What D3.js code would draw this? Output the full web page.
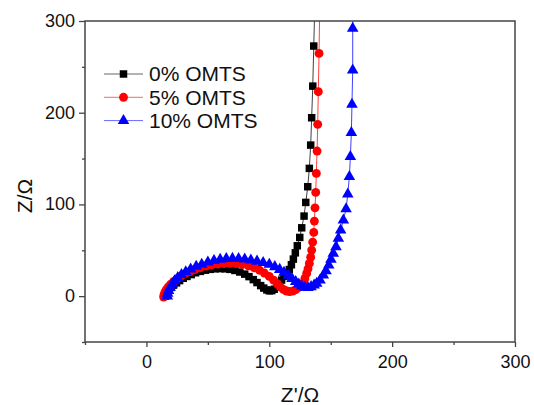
<!DOCTYPE html>
<meta charset="utf-8">
<style>

body {
  margin: 0;
  background: #fff;
}

svg {
  font-family: "Liberation Sans", Arial, sans-serif;
}

.frame {
  fill: none;
  stroke: #444;
  stroke-width: 1.5px;
}

.axis path {
  display: none;
}

.axis line {
  stroke: #444;
  stroke-width: 1.3px;
}

.axis text {
  fill: #111;
  font-size: 18px;
}

.series .line {
  fill: none;
  stroke-width: 1px;
  stroke-opacity: 0.75;
}

</style>
<svg width="534" height="405"></svg>

<script src="https://cdn.jsdelivr.net/npm/d3@7"></script>
<script>

// Z' (x) and -Z'' (y), one pair per marker
var omts0 = [
  [15.5, 0], [16, 2], [17, 4.5], [18.5, 7], [20, 9.5], [22, 12], [24.5, 14.5], [27, 17],
  [30, 19.5], [33, 21.5], [36.5, 23.5], [40, 25.5], [44, 27], [48, 28.3], [52, 29.2],
  [56, 29.8], [60, 30], [64, 29.8], [68, 29.2], [72, 28], [76, 26.3], [80, 24],
  [83.5, 21.3], [87, 18], [90, 14.8], [93, 11.5], [95.5, 8.8], [98, 6.8], [100, 5.8],
  [102, 6], [104, 7.5], [106, 10], [108, 13.5], [110, 17.5], [112, 21.5], [114, 25.5],
  [116.3, 29], [118, 34.2], [119.6, 40.4], [121.2, 47.2], [122.8, 54.9], [124.8, 64],
  [126.4, 74.5], [128.3, 87.3], [129.7, 102.2], [131.3, 119.3], [132.6, 139.3],
  [133.7, 164.7], [134.5, 194.5], [135.4, 229], [136.2, 272.7], [137.3, 330]
];

var omts5 = [
  [14, -1], [14.3, 1.5], [15, 4], [16.2, 7], [17.8, 10], [19.8, 13], [22.2, 16], [25, 19],
  [28, 21.8], [31.5, 24.3], [35.5, 26.8], [39.5, 29], [44, 31], [48.5, 32.8], [53, 34],
  [58, 35], [63, 35.6], [68, 35.8], [73, 35.5], [78, 34.6], [83, 33], [87.5, 31],
  [92, 28.3], [96, 25.2], [100, 21.5], [103.5, 17.5], [106.5, 13.5], [109, 10],
  [111.5, 7.3], [114, 5.6], [116.5, 5], [119, 5.5], [121.5, 7], [124, 9.5], [126, 12],
  [127.7, 14.5], [129, 19.3], [130.4, 24.8], [131.5, 29.8], [132.6, 35.7], [133.7, 42.5],
  [134.5, 50.2], [135.3, 58.9], [136.2, 69.5], [136.7, 81.8], [137.2, 96.3],
  [137.8, 113.1], [138.3, 133.8], [138.9, 158.2], [139.4, 187.3], [139.9, 222.9],
  [140.5, 264.7], [141.2, 330]
];

var omts10 = [
  [17, 0], [17.3, 3], [18, 6], [19.3, 9.5], [21, 13], [23, 16.5], [25.5, 20], [28.5, 23.5],
  [32, 26.5], [36, 29.5], [40.5, 32.3], [45, 34.7], [50, 37], [55, 38.8], [60, 40],
  [65, 40.8], [70, 41], [75, 40.8], [80, 40.2], [85, 39.2], [90, 38], [95, 36.5],
  [100, 34.5], [104.5, 32], [108.5, 29], [112, 25.8], [115.5, 22.5], [118.5, 19],
  [121.5, 15.8], [124, 13], [126.5, 10.8], [129, 9.5], [131.5, 9.3], [134, 10.2],
  [136.5, 12], [138.6, 13.8], [141.3, 17.5], [144, 22.9], [146.2, 27.6], [148.4, 33.8],
  [150.2, 40], [152.1, 46.6], [154.3, 53.8], [156.2, 62.9], [158.1, 72], [160.3, 82.9],
  [162.5, 95], [163.9, 111.3], [165.2, 130.2], [166, 152], [166.8, 178.2], [167.3, 209],
  [167.9, 246.5], [167.9, 292], [168, 330]
];

var seriesNames = ["0% OMTS", "5% OMTS", "10% OMTS"];
var xTicks = [0, 100, 200, 300],
    xMinor = [-50, 50, 150, 250],
    yTicks = [0, 100, 200, 300],
    yMinor = [-50, 50, 150, 250];

var series = [
  {name: seriesNames[0], values: omts0, color: "#000", symbol: d3.symbolSquare, size: 56},
  {name: seriesNames[1], values: omts5, color: "#f00", symbol: d3.symbolCircle, size: 62},
  {name: seriesNames[2], values: omts10, color: "#00f", symbol: d3.symbolTriangle, size: 58}
];

var svg = d3.select("svg"),
    margin = {top: 21, right: 19, bottom: 63, left: 85},
    width = svg.attr("width") - margin.left - margin.right,
    height = svg.attr("height") - margin.top - margin.bottom,
    g = svg.append("g").attr("transform", "translate(" + margin.left + "," + margin.top + ")");

var x = d3.scaleLinear()
    .domain([-50, 300])
    .range([0, width]);

var y = d3.scaleLinear()
    .domain([-50, 300])
    .range([height, 0]);

var line = d3.line()
    .x(function(d) { return x(d[0]); })
    .y(function(d) { return y(d[1]); });

g.append("clipPath")
    .attr("id", "clip")
  .append("rect")
    .attr("width", width)
    .attr("height", height);

// minor ticks first, then the labelled ones
g.append("g")
    .attr("class", "axis axis--x")
    .attr("transform", "translate(0," + height + ")")
    .call(d3.axisBottom(x).tickValues(xMinor).tickSize(3).tickFormat(""));

g.append("g")
    .attr("class", "axis axis--x")
    .attr("transform", "translate(0," + height + ")")
    .call(d3.axisBottom(x).tickValues(xTicks).tickSize(5).tickPadding(6))
  .selectAll("text")
    .attr("dy", "0.85em");

g.append("g")
    .attr("class", "axis axis--y")
    .call(d3.axisLeft(y).tickValues(yMinor).tickSize(3).tickFormat(""));

g.append("g")
    .attr("class", "axis axis--y")
    .call(d3.axisLeft(y).tickValues(yTicks).tickSize(6).tickPadding(4))
  .selectAll("text")
    .attr("dy", "0.3em");

var plot = g.append("g")
    .attr("clip-path", "url(#clip)");

var s = plot.selectAll(".series")
  .data(series)
  .enter().append("g")
    .attr("class", "series");

s.append("path")
    .attr("class", "line")
    .attr("d", function(d) { return line(d.values); })
    .attr("stroke", function(d) { return d.color; });

s.selectAll(".dot")
  .data(function(d) { return d.values.map(function(v) { return {v: v, s: d}; }); })
  .enter().append("path")
    .attr("class", "dot")
    .attr("transform", function(d) { return "translate(" + x(d.v[0]) + "," + y(d.v[1]) + ")"; })
    .attr("d", function(d) { return d3.symbol().type(d.s.symbol).size(d.s.size)(); })
    .attr("fill", function(d) { return d.s.color; });

g.append("rect")
    .attr("class", "frame")
    .attr("width", width)
    .attr("height", height);

// legend
var legend = g.append("g")
    .attr("transform", "translate(19,53)");

var item = legend.selectAll("g")
  .data(series)
  .enter().append("g")
    .attr("transform", function(d, i) { return "translate(0," + (i * 23.3) + ")"; });

item.append("line")
    .attr("x1", 0)
    .attr("x2", 39)
    .attr("stroke", function(d) { return d.color; })
    .attr("stroke-opacity", 0.6)
    .attr("stroke-width", 1);

item.append("path")
    .attr("transform", "translate(19.5,0)")
    .attr("d", function(d) { return d3.symbol().type(d.symbol).size(d.size)(); })
    .attr("fill", function(d) { return d.color; });

item.append("text")
    .attr("x", 45)
    .attr("dy", "0.35em")
    .style("font-size", "21px")
    .style("fill", "#111")
    .text(function(d) { return d.name; });

// axis titles
svg.append("text")
    .attr("x", margin.left + width / 2)
    .attr("y", 402)
    .style("text-anchor", "middle")
    .style("font-size", "21px")
    .style("fill", "#111")
    .text("Z'/Ω");

svg.append("text")
    .attr("transform", "translate(32,196) rotate(-90)")
    .style("text-anchor", "middle")
    .style("font-size", "21px")
    .style("fill", "#111")
    .text("Z/Ω");

</script>
